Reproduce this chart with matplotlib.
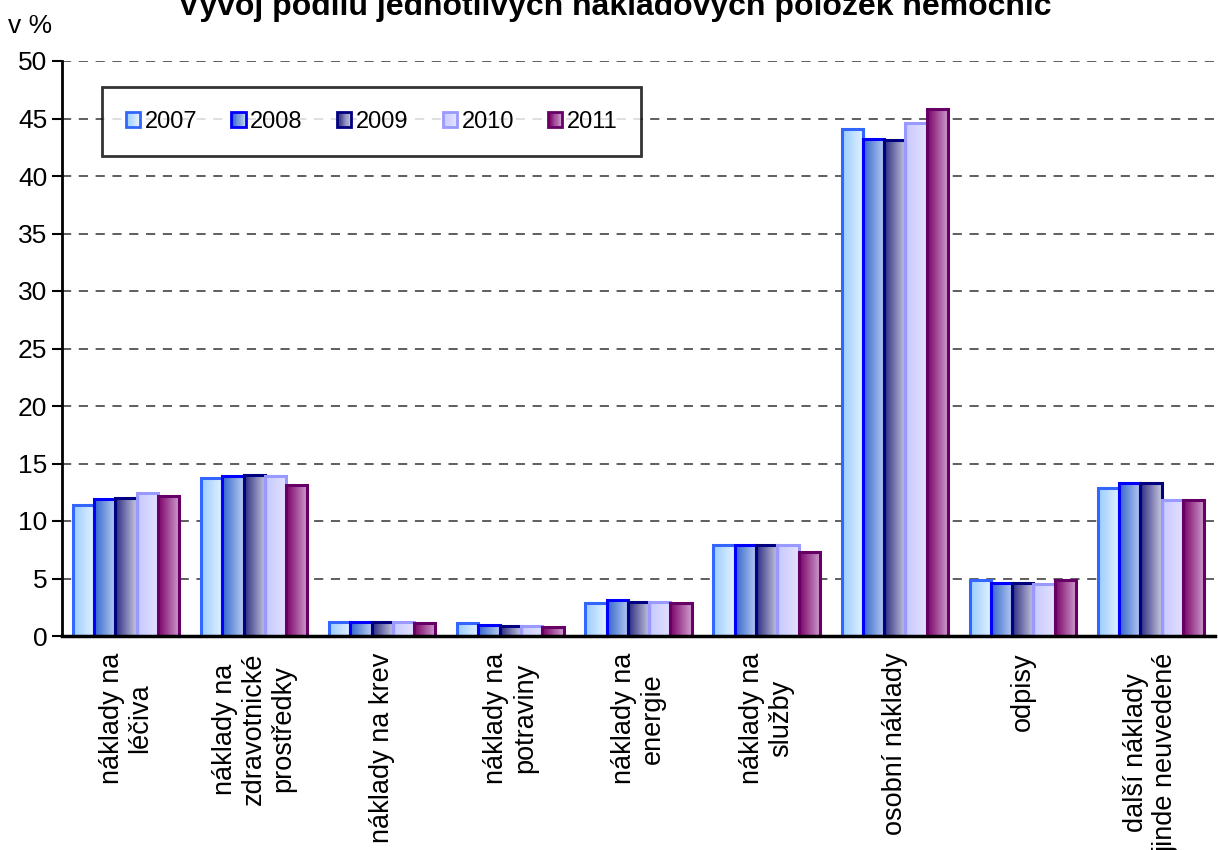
import numpy as np
import matplotlib
matplotlib.use('Agg')
import matplotlib.pyplot as plt
import matplotlib.colors as mcolors
from matplotlib.patches import Rectangle
from matplotlib.legend_handler import HandlerBase

plt.rcParams['font.family'] = ['Liberation Sans', 'DejaVu Sans']

# ---------------------------------------------------------------------------
# Data
# ---------------------------------------------------------------------------
CATEGORIES = [
    'náklady na\nléčiva',
    'náklady na\nzdravotnické\nprostředky',
    'náklady na krev',
    'náklady na\npotraviny',
    'náklady na\nenergie',
    'náklady na\nslužby',
    'osobní náklady',
    'odpisy',
    'další náklady\njinde neuvedené',
]
YEARS = ['2007', '2008', '2009', '2010', '2011']

V2007 = [11.4, 13.7, 1.2, 1.1, 2.9, 7.9, 44.1, 4.9, 12.9]
V2008 = [11.9, 13.9, 1.2, 1.0, 3.1, 7.9, 43.2, 4.6, 13.3]
V2009 = [12.0, 14.0, 1.2, 0.9, 3.0, 7.9, 43.1, 4.6, 13.3]
V2010 = [12.4, 13.9, 1.2, 0.9, 3.0, 7.9, 44.6, 4.5, 11.8]
V2011 = [12.2, 13.1, 1.1, 0.8, 2.9, 7.3, 45.8, 4.9, 11.8]
SERIES = [V2007, V2008, V2009, V2010, V2011]

# (left colour, right colour, edge colour) for the horizontal gradient fills
STYLES = [
    ('#99ccff', '#e4f2ff', '#3366ff'),
    ('#3366cc', '#b8cdf0', '#0000ff'),
    ('#2a2a80', '#c8c8e0', '#000080'),
    ('#c8c8ff', '#e2e2ff', '#9999ff'),
    ('#7a0066', '#d0a0d0', '#660066'),
]

TITLE = 'Vývoj podílu jednotlivých nákladových položek nemocnic'


class GradientHandler(HandlerBase):
    """Legend key drawn as a small square with the same horizontal gradient."""

    def create_artists(self, legend, orig_handle, xdescent, ydescent,
                       width, height, fontsize, trans):
        c_left, c_right, c_edge = orig_handle.grad_style
        cmap = mcolors.LinearSegmentedColormap.from_list('g', [c_left, c_right])
        n = 12
        artists = []
        for k in range(n):
            artists.append(Rectangle(
                (-xdescent + width * k / n, -ydescent), width / n + 0.3, height,
                facecolor=cmap(k / (n - 1)), edgecolor='none', transform=trans))
        artists.append(Rectangle((-xdescent, -ydescent), width, height,
                                 facecolor='none', edgecolor=c_edge,
                                 linewidth=2, transform=trans))
        return artists


# ---------------------------------------------------------------------------
# Figure
# ---------------------------------------------------------------------------
fig = plt.figure(figsize=(12.18, 8.5), dpi=100, facecolor='white')
ax = fig.add_axes([62 / 1218, 214 / 850, 1153 / 1218, 575 / 850])

n_series = len(SERIES)
group_w = 0.83
bar_w = group_w / n_series
x = np.arange(len(CATEGORIES))

for i, (vals, (c_left, c_right, c_edge)) in enumerate(zip(SERIES, STYLES)):
    offs = x - group_w / 2 + bar_w * (i + 0.5)
    bars = ax.bar(offs, vals, width=bar_w, facecolor='none',
                  edgecolor=c_edge, linewidth=2.2, zorder=4)
    cmap = mcolors.LinearSegmentedColormap.from_list(f's{i}', [c_left, c_right])
    grad = np.linspace(0, 1, 64).reshape(1, -1)
    for b in bars:
        x0, y0 = b.get_x(), b.get_y()
        ax.imshow(grad, cmap=cmap, aspect='auto', interpolation='bicubic',
                  extent=(x0, x0 + b.get_width(), y0, y0 + b.get_height()),
                  zorder=3)

ax.set_xlim(-0.5, len(CATEGORIES) - 0.5)
ax.set_ylim(0, 50)
ax.set_yticks(np.arange(0, 51, 5))
ax.tick_params(axis='y', labelsize=19, length=7, width=1.5, direction='out')
ax.set_xticks(x)
ax.set_xticklabels(CATEGORIES, rotation=90, fontsize=19.5, va='top', ha='center',
                   multialignment='center', linespacing=1.15)
ax.tick_params(axis='x', length=0, pad=12)

ax.yaxis.grid(True, linestyle=(0, (6, 5)), color='#333333', linewidth=1.1)
ax.set_axisbelow(True)
for side in ('top', 'right'):
    ax.spines[side].set_visible(False)
ax.spines['left'].set_linewidth(2)
ax.spines['bottom'].set_linewidth(2.5)
ax.spines['bottom'].set_zorder(6)

# Legend
handles = []
for st in STYLES:
    h = Rectangle((0, 0), 1, 1)
    h.grad_style = st
    handles.append(h)
leg = ax.legend(handles, YEARS, loc='upper left', ncol=5,
                handler_map={Rectangle: GradientHandler()},
                bbox_to_anchor=(40 / 1153, 1 - 26 / 575), fontsize=17,
                frameon=True, fancybox=False, shadow=False,
                handlelength=0.6, handleheight=0.6, handletextpad=0.2,
                columnspacing=1.45, borderpad=1.0, borderaxespad=0)
leg.get_frame().set_edgecolor('black')
leg.get_frame().set_linewidth(2)
leg.set_zorder(10)

fig.text(0.505, 1 - 15 / 850, TITLE, ha='center', va='baseline',
         fontsize=23, fontweight='bold')
fig.text(8 / 1218, 1 - 33 / 850, 'v %', ha='left', va='baseline', fontsize=19)

fig.savefig('out.png', dpi=100, facecolor='white')
